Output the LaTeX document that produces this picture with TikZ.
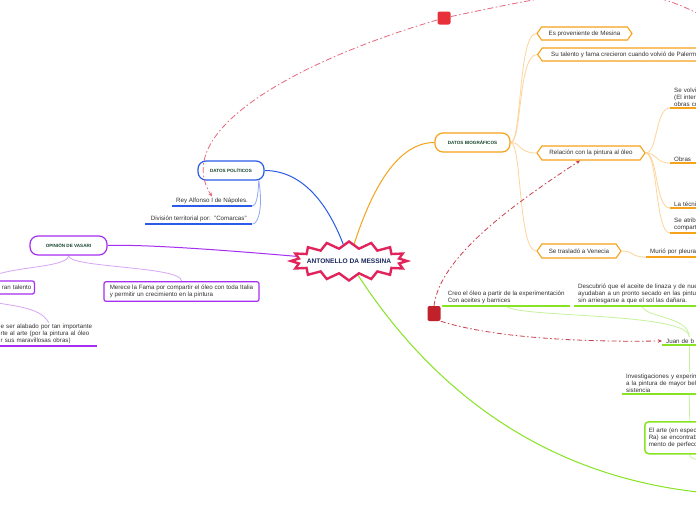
\documentclass[tikz,border=0pt]{standalone}
\usepackage{fontspec}
\setmainfont{Liberation Sans}
\usetikzlibrary{shapes.symbols,shapes.misc,arrows.meta,calc}
\pgfdeclarelayer{bg}
\pgfsetlayers{bg,main}
\definecolor{crim}{HTML}{E2245C}
\definecolor{navy}{HTML}{1B2A5E}
\definecolor{ttlg}{HTML}{17452F}
\definecolor{blu}{HTML}{2B5BE8}
\definecolor{blul}{HTML}{8FAAF2}
\definecolor{purp}{HTML}{A62EF0}
\definecolor{purpl}{HTML}{D8A6F4}
\definecolor{orng}{HTML}{F7A21B}
\definecolor{orngl}{HTML}{FDD49A}
\definecolor{grn}{HTML}{86E424}
\definecolor{grnl}{HTML}{C6F29C}
\definecolor{redA}{HTML}{E8303A}
\definecolor{redB}{HTML}{C0212B}
\definecolor{redlA}{HTML}{E5677A}
\definecolor{redlB}{HTML}{C9404E}
\definecolor{txt}{HTML}{333333}
\tikzset{
  body/.style={font=\fontsize{6.2}{7}\selectfont, text=txt},
  ttl/.style={font=\bfseries\fontsize{4.6}{5}\selectfont, text=ttlg},
  hexo/.style={signal, signal to=west and east, signal pointer angle=110, draw=orng, line width=1.1pt, fill=white, body, minimum height=13pt, inner xsep=2pt},
  ultext/.style={body, anchor=south west, align=left, inner xsep=4pt, inner ysep=1.6pt},
  ttlbox/.style={ttl, fill=white, line width=1.2pt, rounded corners=8pt, minimum height=19pt},
  pbox/.style={body, draw=purp, line width=1.2pt, rounded corners=2pt, fill=white},
  ulO/.style={orng, line width=1.6pt},
  ulB/.style={blu, line width=1.6pt},
  ulG/.style={grn, line width=1.6pt},
  ulP/.style={purp, line width=1.6pt},
  lkO/.style={orngl, line width=0.8pt},
  lkB/.style={blul, line width=0.8pt},
  lkG/.style={grnl, line width=0.8pt},
  lkP/.style={purpl, line width=0.8pt},
  redsq/.style={rounded corners=2pt, inner sep=0pt},
  dashA/.style={redlA, line width=0.8pt, dash pattern=on 6pt off 2.5pt on 1.5pt off 2.5pt},
  dashB/.style={redlB, line width=0.8pt, dash pattern=on 5pt off 2.5pt on 1.5pt off 2.5pt},
  tip/.style={-{Stealth[length=4pt,width=3.5pt]}}
}
\begin{document}
\begin{tikzpicture}[x=1pt,y=-1pt]
\useasboundingbox (0,0) rectangle (696,520);
\clip (0,0) rectangle (696,520);

% central node
\node[starburst, starburst points=16, starburst point height=7pt, random starburst=0,
      draw=crim, line width=2.4pt, fill=white,
      inner xsep=-6pt, inner ysep=6.5pt, font=\bfseries\fontsize{6.6}{7}\selectfont, text=navy] (c) at (349,261) {ANTONELLO DA MESSINA};

% Datos politicos
\node[ttlbox, draw=blu, minimum width=66pt] (dp) at (231,170.5) {DATOS POLÍTICOS};
\node[ultext, minimum width=78pt, align=center] (ra) at (172,206) {Rey Alfonso I de Nápoles.};
\node[ultext, minimum width=107pt, align=center] (dt) at (145,224) {División territorial por:\ \ "Comarcas"};

% Opinion de Vasari
\node[ttlbox, draw=purp, minimum width=77pt] (ov) at (68.5,245.5) {OPINIÓN DE VASARI};
\node[pbox, anchor=east, minimum height=13pt, text width=40pt, align=right, inner xsep=3pt] (gt) at (35,287.5) {ran talento};
\node[pbox, align=left, minimum width=155pt, minimum height=19pt] (mf) at (181.5,291.5) {Merece la Fama por compartir el óleo con toda Italia\\y permitir un crecimiento en la pintura};
\node[ultext, text width=96pt, inner xsep=0.5pt] (al) at (0,346) {e ser alabado por tan importante\\rte al arte (por la pintura al óleo\\r sus maravillosas obras)};
\coordinate (gtin) at (-12,278);
\coordinate (gtout) at (-20,300);

% Datos biograficos
\node[ttlbox, draw=orng, minimum width=75pt] (db) at (472.5,142.5) {DATOS BIOGRÁFICOS};
\node[hexo, minimum width=95pt] (ep) at (584.5,33.5) {Es proveniente de Mesina};
\node[hexo, anchor=west, inner xsep=9pt] (st) at (537,54.5) {Su talento y fama crecieron cuando volvió de Palermo};
\node[hexo, minimum width=108pt, minimum height=14pt] (rp) at (591,153) {Relación con la pintura al óleo};
\node[hexo, minimum width=84pt, minimum height=14pt] (sv) at (579,251) {Se trasladó a Venecia};
\node[ultext, text width=60pt] (r1) at (670,108) {Se volvi\\(El inter\\obras co};
\node[ultext, text width=60pt] (r2) at (670,163) {Obras};
\node[ultext, text width=60pt] (r3) at (670,208) {La técni};
\node[ultext, text width=60pt] (r4) at (670,233) {Se atrib\\compart};
\node[ultext, text width=60pt] (mp) at (646,257) {Murió por pleura};

% green branch
\node[ultext, align=left, minimum width=128pt, inner xsep=2pt] (cr) at (442,306) {Creo el óleo a partir de la experimentación\\Con aceites y barnices};
\node[ultext, text width=128pt] (de) at (574,306) {Descubrió que el aceite de linaza y de nue\\ayudaban a un pronto secado en las pintur\\sin arriesgarse a que el sol las dañara.};
\node[ultext, text width=46pt] (jb) at (662,345) {Juan de b};
\node[ultext, text width=126pt] (iv) at (622,394) {Investigaciones y experim\\a la pintura de mayor bel\\sistencia};
\node[body, anchor=north west, draw=grn, line width=1.5pt, rounded corners=4pt, fill=white, align=left, text width=82pt, inner xsep=4pt, minimum height=32pt] (ea) at (644,421) {El arte (en espec\\Ra) se encontrab\\mento de perfecc};
\coordinate (gend) at (720,494);
\coordinate (eaout) at (720,462);

% red markers
\node[redsq, fill=redA, minimum size=13pt] (rs1) at (444,18) {};
\node[redsq, fill=redB, minimum width=13pt, minimum height=15pt] (rs2) at (434,313.5) {};
\coordinate (topout) at (740,40);

% underlines
\draw[ulB] (ra.south west) -- (ra.south east);
\draw[ulB] (dt.south west) -- (dt.south east);
\draw[ulP] (al.south west) -- (al.south east);
\foreach \n in {r1,r2,r3,r4,mp} \draw[ulO] (\n.south west) -- (\n.south east);
\foreach \n in {cr,de,jb,iv} \draw[ulG] (\n.south west) -- (\n.south east);

% connectors
\begin{pgfonlayer}{bg}
\fill[white] (0,0) rectangle (696,520);
\clip (0,0) rectangle (696,520);
\draw[blu, line width=1pt] (c.center) .. controls (330,200) and (300,170.5) .. (dp.east);
\draw[orng, line width=1pt] (c.center) .. controls (368,195) and (395,142.5) .. (db.west);
\draw[purp, line width=1pt] (c.center) .. controls (250,252) and (150,244) .. (ov.east);
\draw[grn, line width=1pt] (c.center) .. controls (410,360) and (520,480) .. (gend);

\draw[lkB] (dp.-20) .. controls (258,198) and (256,206) .. (ra.south east);
\draw[lkB] (dp.-20) .. controls (263,205) and (259,224) .. (dt.south east);

\draw[lkP] (ov.south) .. controls (68,268) and (10,266) .. (gtin);
\draw[lkP] (ov.south) .. controls (68,268) and (182,266) .. (mf.north);
\draw[lkP] (gtout) .. controls (10,306) and (40,306) .. (al.north);

\draw[lkO] (db.east) .. controls (522,142.5) and (518,33.5) .. (ep.west);
\draw[lkO] (db.east) .. controls (522,142.5) and (518,54.5) .. (st.west);
\draw[lkO] (db.east) .. controls (522,142.5) and (518,153) .. (rp.west);
\draw[lkO] (db.east) .. controls (522,142.5) and (518,251) .. (sv.west);
\draw[lkO] (rp.east) .. controls (658,153) and (655,108) .. (r1.south west);
\draw[lkO] (rp.east) .. controls (658,153) and (655,163) .. (r2.south west);
\draw[lkO] (rp.east) .. controls (658,153) and (655,208) .. (r3.south west);
\draw[lkO] (rp.east) .. controls (658,153) and (655,233) .. (r4.south west);
\draw[lkO] (sv.east) .. controls (635,251) and (630,257) .. (mp.south west);

\draw[lkG] (cr.south) .. controls (515,318) and (689,312) .. (jb.north);
\draw[lkG] (de.south) .. controls (645,318) and (689,316) .. (jb.north);
\draw[lkG] (jb.south) -- (iv.north);
\draw[lkG] (iv.south) -- (ea.north);
\draw[lkG] (ea.south) .. controls (689,460) and (700,460) .. (eaout);
\end{pgfonlayer}

% red dashed links
\draw[dashA, tip] (rs1) .. controls (300,60) and (170,130) .. (ra.north);
\draw[dashA] (rs1) .. controls (600,-15) and (650,-25) .. (topout);
\draw[dashB, tip] (rs2.north) .. controls (440,255) and (520,200) .. ($(rp.south)+(-11,0)$);
\draw[dashB, tip] (rs2.south east) .. controls (500,340) and (600,342) .. (jb.west);
\end{tikzpicture}
\end{document}
